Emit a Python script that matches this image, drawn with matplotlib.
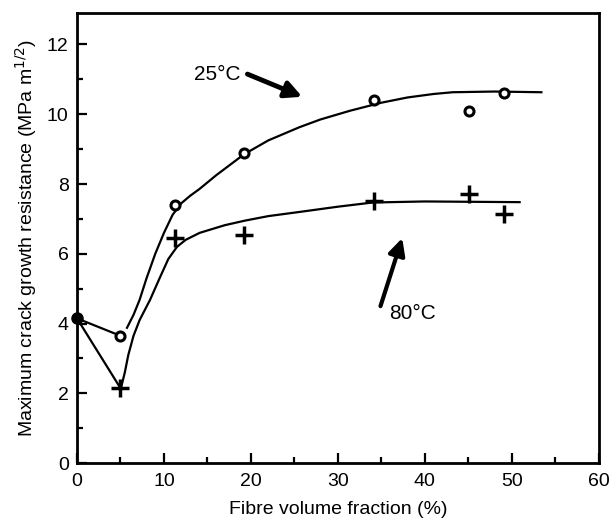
import matplotlib
matplotlib.use("Agg")
import matplotlib.pyplot as plt
from matplotlib.ticker import MultipleLocator

plt.rcParams['font.family'] = ['Liberation Sans', 'DejaVu Sans']

# measured points
x_25 = [5, 11.3, 19.2, 34.1, 45.1, 49.1]
y_25 = [3.65, 7.4, 8.9, 10.4, 10.1, 10.6]
x_80 = [5, 11.3, 19.2, 34.1, 45.1, 49.1]
y_80 = [2.15, 6.45, 6.55, 7.5, 7.7, 7.15]
x_start = [0]
y_start = [4.15]

# fitted curves
curve25_x = [5.75, 6.5, 7.2, 8, 9, 10, 11, 12, 13, 14.1, 16, 19.2, 22, 25.6, 28, 31.4, 35, 38, 41, 43.2, 48, 53.4]
curve25_y = [3.88, 4.25, 4.68, 5.3, 6.0, 6.6, 7.12, 7.45, 7.66, 7.86, 8.25, 8.85, 9.25, 9.63, 9.85, 10.1, 10.33, 10.48, 10.58, 10.63, 10.65, 10.63]
curve80_x = [5, 5.5, 5.9, 6.5, 7.2, 8.4, 9.5, 10.5, 11.5, 12.5, 14.1, 17, 19.3, 22, 25.6, 30, 34, 40, 50.9]
curve80_y = [2.1, 2.6, 3.1, 3.65, 4.1, 4.68, 5.3, 5.85, 6.2, 6.4, 6.6, 6.82, 6.95, 7.08, 7.2, 7.35, 7.47, 7.5, 7.48]
seg25_x = [0, 5]
seg25_y = [4.15, 3.65]
seg80_x = [0, 5]
seg80_y = [4.15, 2.15]

fig = plt.figure(figsize=(6.11, 5.21), dpi=100)
ax = fig.add_axes([0.126, 0.111, 0.854, 0.864])

ax.plot(seg25_x, seg25_y, color='black', lw=1.6)
ax.plot(seg80_x, seg80_y, color='black', lw=1.6)
ax.plot(curve25_x, curve25_y, color='black', lw=1.6)
ax.plot(curve80_x, curve80_y, color='black', lw=1.6)
ax.plot(x_25, y_25, linestyle='none', marker='o', ms=6.5, mfc='white', mec='black', mew=2.2)
ax.plot(x_80, y_80, linestyle='none', marker='+', ms=13, mec='black', mew=2.5)
ax.plot(x_start, y_start, linestyle='none', marker='o', ms=8, mfc='black', mec='black', clip_on=False)

ax.set_xlim(0, 60)
ax.set_ylim(0, 12.9)
ax.xaxis.set_major_locator(MultipleLocator(10))
ax.xaxis.set_minor_locator(MultipleLocator(5))
ax.yaxis.set_major_locator(MultipleLocator(2))
ax.yaxis.set_minor_locator(MultipleLocator(1))
ax.tick_params(which='both', direction='in', width=1.6, labelsize=14, colors='black')
ax.tick_params(which='major', length=7, pad=7)
ax.tick_params(which='minor', length=4)
ax.tick_params(axis='y', pad=6)
for s in ax.spines.values():
    s.set_linewidth(2.0)

ax.set_xlabel('Fibre volume fraction (%)', fontsize=14, labelpad=8)
ax.set_ylabel('Maximum crack growth resistance (MPa m$^{1/2}$)', fontsize=14, labelpad=6)

ax.text(16.1, 11.15, '25°C', fontsize=15, ha='center', va='center')
ax.annotate('', xy=(25.9, 10.5), xytext=(19.6, 11.15),
            arrowprops=dict(arrowstyle='-|>,head_length=1.0,head_width=0.5', lw=3.5, color='black', shrinkA=0, shrinkB=0))
ax.text(38.6, 4.3, '80°C', fontsize=15, ha='center', va='center')
ax.annotate('', xy=(37.4, 6.45), xytext=(34.9, 4.5),
            arrowprops=dict(arrowstyle='-|>,head_length=1.0,head_width=0.5', lw=3.0, color='black', shrinkA=0, shrinkB=0))

fig.savefig('out.png', dpi=100)
